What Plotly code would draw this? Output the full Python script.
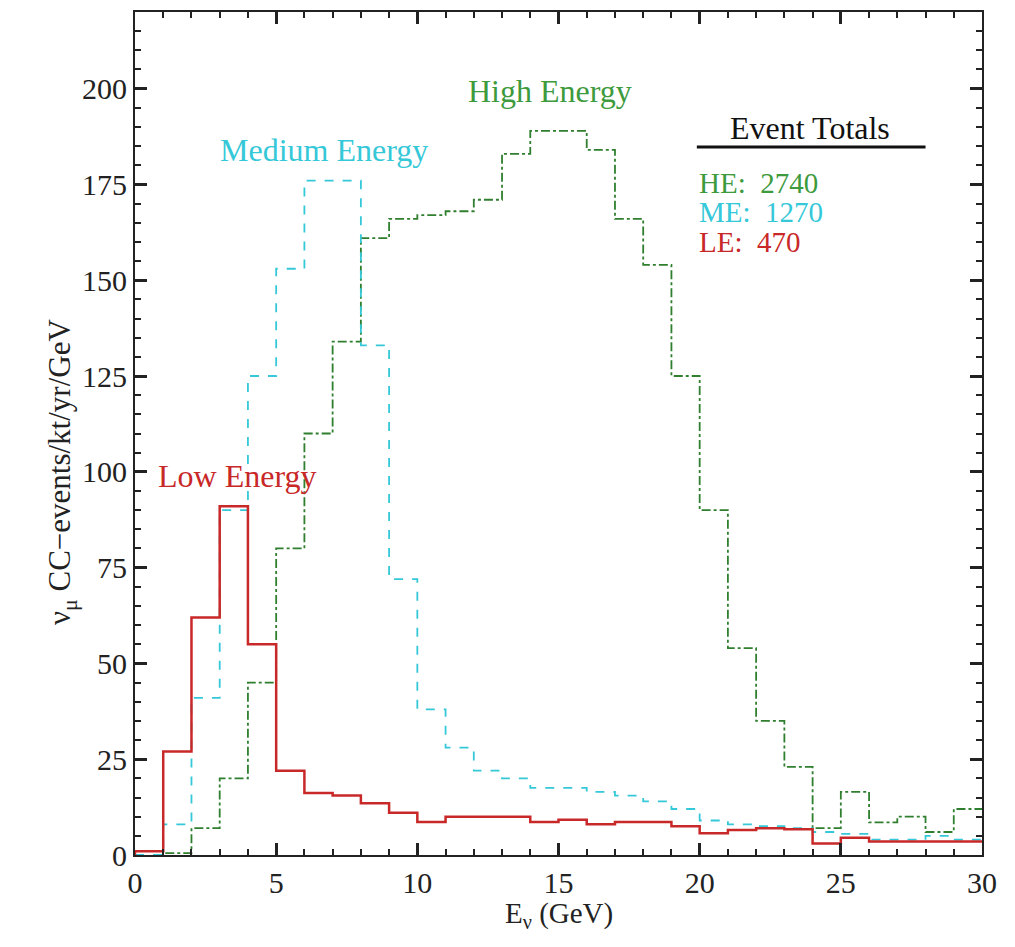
import plotly.graph_objects as go

# bin edges (GeV) and per-bin rates
edges = list(range(0, 31))
LE = [1, 27, 62, 91, 55, 22, 16.2, 15.5, 13.5, 11, 8.6, 10, 10, 10, 8.6, 9.2, 8, 8.6, 8.6, 7.5,
      5.7, 6.5, 7, 6.7, 3, 4.5, 3.5, 3.5, 3.5, 3.5]
ME = [0, 8, 41, 90, 125, 153, 176, 176, 133, 72, 38, 28, 22, 20, 17.5, 17.5, 16.5, 15.5, 14, 12,
      9, 8, 7.5, 7, 6, 5.5, 4, 4, 5, 4]
HE = [1, 0.5, 7, 20, 45, 80, 110, 134, 161, 166, 167, 168, 171, 183, 189, 189, 184, 166, 154, 125,
      90, 54, 35, 23, 7, 16.5, 8.5, 10, 6, 12]

labels = ["High Energy", "Medium Energy", "Low Energy"]
totals = [("HE:  2740", "#3d9a3d"), ("ME:  1270", "#35c8d8"), ("LE:  470", "#c82828")]

font_family = "Liberation Serif, Times New Roman, serif"


def step(vals):
    xs = [edges[0]] + edges[:-1] + [edges[-1]]
    ys = [0] + vals + [vals[-1]]
    return xs, ys


fig = go.Figure()
for vals, color, dash, width in [
    (HE, "#2f7f2f", "dashdot", 1.8),
    (ME, "#35c8d8", "dash", 1.8),
    (LE, "#c82828", "solid", 2.5),
]:
    xs, ys = step(vals)
    fig.add_trace(go.Scatter(x=xs, y=ys, mode="lines", line_shape="hv",
                             line=dict(color=color, dash=dash, width=width),
                             showlegend=False, hoverinfo="skip"))

# curve labels
fig.add_annotation(x=14.7, y=199.5, text=labels[0], showarrow=False,
                   font=dict(family=font_family, size=32, color="#3d9a3d"))
fig.add_annotation(x=6.7, y=184, text=labels[1], showarrow=False,
                   font=dict(family=font_family, size=32, color="#35c8d8"))
fig.add_annotation(x=3.6, y=99, text=labels[2], showarrow=False,
                   font=dict(family=font_family, size=32, color="#c82828"))

# event totals box
fig.add_annotation(x=23.9, y=189.8, text="Event Totals", showarrow=False,
                   font=dict(family=font_family, size=32, color="#111111"))
fig.add_shape(type="line", x0=19.9, x1=28.0, y0=184.8, y1=184.8,
              line=dict(color="#111111", width=3))
for i, (t, c) in enumerate(totals):
    fig.add_annotation(x=19.9, y=175.5 - i * 7.8, text=t, showarrow=False, xanchor="left",
                       font=dict(family=font_family, size=29, color=c))

axis_common = dict(showline=True, linecolor="#222222", linewidth=2, mirror="allticks",
                   ticks="inside", tickcolor="#222222", tickwidth=2.5, ticklen=12,
                   showgrid=False, zeroline=False,
                   tickfont=dict(family=font_family, size=30, color="#222222"))

fig.update_xaxes(range=[0, 30], tick0=0, dtick=5,
                 minor=dict(dtick=1, ticks="inside", ticklen=6, tickcolor="#222222", tickwidth=1.5),
                 **axis_common)
fig.update_yaxes(range=[0, 220], tick0=0, dtick=25,
                 minor=dict(dtick=5, ticks="inside", ticklen=6, tickcolor="#222222", tickwidth=1.5),
                 **axis_common)

# axis titles
fig.add_annotation(xref="paper", yref="paper", x=0.5, y=-0.071, yanchor="middle",
                   text="E<sub>ν</sub> (GeV)", showarrow=False,
                   font=dict(family=font_family, size=29, color="#222222"))
fig.add_annotation(xref="paper", yref="y", x=-0.112, y=100, textangle=-90,
                   text="ν<sub>μ</sub> CC−events/kt/yr/GeV", showarrow=False,
                   font=dict(family=font_family, size=31, color="#222222"))

fig.update_layout(width=1015, height=947, margin=dict(l=135, r=33, t=10, b=92),
                  plot_bgcolor="white", paper_bgcolor="white")

fig.write_html("out.html")
